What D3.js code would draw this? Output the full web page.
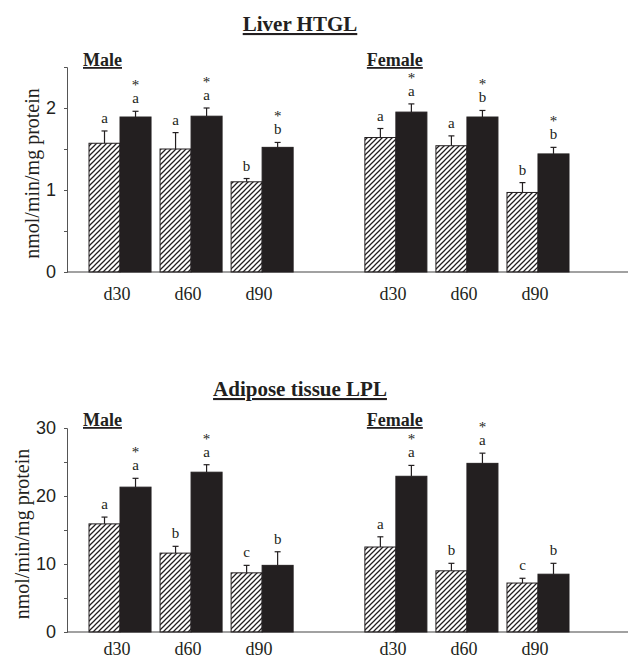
<!DOCTYPE html>
<html><head><meta charset="utf-8">
<script src="https://cdn.jsdelivr.net/npm/d3@7"></script>
<style>
html,body{margin:0;padding:0;background:#fff;}
svg{display:block;}
</style></head>
<body>
<script>
// ---------- DATA ----------
const days = ["d30", "d60", "d90"];
const sexes = ["Male", "Female"];
const groupsKeys = ["control", "treated"];

// Liver HTGL (nmol/min/mg protein)
const htglMaleControl   = [1.57, 1.50, 1.10];
const htglMaleControlSE = [0.15, 0.20, 0.04];
const htglMaleTreated   = [1.89, 1.90, 1.52];
const htglMaleTreatedSE = [0.07, 0.10, 0.06];
const htglFemaleControl   = [1.64, 1.54, 0.97];
const htglFemaleControlSE = [0.11, 0.12, 0.12];
const htglFemaleTreated   = [1.95, 1.89, 1.44];
const htglFemaleTreatedSE = [0.10, 0.08, 0.08];
const htglMaleLetters   = [["a", "a"], ["a", "a"], ["b", "b"]];
const htglFemaleLetters = [["a", "a"], ["a", "b"], ["b", "b"]];
const htglMaleStar   = [true, true, true];
const htglFemaleStar = [true, true, true];
const htglTicks = [0, 0.5, 1, 1.5, 2, 2.5];
const htglTickLabels = ["0", "", "1", "", "2", ""];

// Adipose tissue LPL (nmol/min/mg protein)
const lplMaleControl   = [15.9, 11.6, 8.7];
const lplMaleControlSE = [1.0, 1.0, 1.1];
const lplMaleTreated   = [21.3, 23.5, 9.8];
const lplMaleTreatedSE = [1.3, 1.1, 2.0];
const lplFemaleControl   = [12.5, 9.0, 7.2];
const lplFemaleControlSE = [1.5, 1.1, 0.7];
const lplFemaleTreated   = [22.9, 24.8, 8.5];
const lplFemaleTreatedSE = [1.6, 1.5, 1.6];
const lplMaleLetters   = [["a", "a"], ["b", "a"], ["c", "b"]];
const lplFemaleLetters = [["a", "a"], ["b", "a"], ["c", "b"]];
const lplMaleStar   = [true, true, false];
const lplFemaleStar = [true, true, false];
const lplTicks = [0, 5, 10, 15, 20, 25, 30];
const lplTickLabels = ["0", "", "10", "", "20", "", "30"];

const yLabel = "nmol/min/mg protein";

// ---------- LAYOUT ----------
const W = 631, H = 660;
const serif = "'Liberation Serif', 'Times New Roman', serif";
const sans = "'Liberation Sans', Arial, sans-serif";
const ink = "#231f20";

const svg = d3.select("body").append("svg").attr("width", W).attr("height", H);

const defs = svg.append("defs");
defs.append("pattern")
  .attr("id", "hatch").attr("patternUnits", "userSpaceOnUse")
  .attr("width", 5).attr("height", 5)
  .append("path")
  .attr("d", "M-1,1 l2,-2 M0,5 l5,-5 M4,6 l2,-2")
  .attr("stroke", ink).attr("stroke-width", 1.25);

const xSex = d3.scaleBand().domain(sexes).range([89, 569]).paddingInner(0.26).paddingOuter(0);
const xDay = d3.scaleBand().domain(days).range([0, xSex.bandwidth()]).paddingInner(0.127).paddingOuter(0);
const xBar = d3.scaleBand().domain(groupsKeys).range([0, xDay.bandwidth()]).padding(0);
const sexLabelShift = { Male: -6, Female: 2 };

function panel(cfg) {
  const g = svg.append("g");
  const y = d3.scaleLinear().domain([0, cfg.max]).range([cfg.y0, cfg.y1]);

  // title
  g.append("text").attr("x", 300).attr("y", cfg.titleY)
    .attr("text-anchor", "middle").attr("font-family", serif)
    .attr("font-weight", "bold").attr("font-size", 21).attr("fill", ink)
    .attr("text-decoration", "underline").text(cfg.title);

  // sex labels
  sexes.forEach(s => {
    g.append("text").attr("x", xSex(s) + sexLabelShift[s]).attr("y", cfg.sexY)
      .attr("font-family", serif).attr("font-weight", "bold")
      .attr("font-size", 18).attr("fill", ink)
      .attr("text-decoration", "underline").text(s);
  });

  // y axis
  const ax = d3.axisLeft(y).tickValues(cfg.ticks).tickSize(3).tickPadding(8)
    .tickFormat((d, i) => cfg.tickLabels[i]);
  const axG = g.append("g").attr("transform", `translate(67,0)`).call(ax);
  axG.select(".domain").attr("stroke", "#555").attr("stroke-width", 1);
  axG.selectAll(".tick line").attr("stroke", "#555");
  axG.selectAll(".tick text").attr("font-family", sans).attr("font-size", 18).attr("fill", ink);

  // baseline
  g.append("line").attr("x1", 67).attr("x2", 628).attr("y1", y(0)).attr("y2", y(0))
    .attr("stroke", "#444").attr("stroke-width", 1.2);

  // y label
  g.append("text")
    .attr("transform", `translate(${cfg.labelX},${(cfg.y0 + cfg.y1) / 2 + 4}) rotate(-90)`)
    .attr("text-anchor", "middle").attr("font-family", serif)
    .attr("font-size", 20).attr("fill", ink).text(yLabel);

  sexes.forEach(s => {
    const d = cfg.data[s];
    days.forEach((day, i) => {
      const gx = xSex(s) + xDay(day);
      const vals = [d.control[i], d.treated[i]];
      const ses = [d.controlSE[i], d.treatedSE[i]];
      groupsKeys.forEach((k, j) => {
        const bx = gx + xBar(k);
        const bw = xBar.bandwidth();
        const cx = bx + bw / 2;
        const top = y(vals[j]);
        const et = y(vals[j] + ses[j]);
        // error bar
        g.append("line").attr("x1", cx).attr("x2", cx).attr("y1", top).attr("y2", et)
          .attr("stroke", ink).attr("stroke-width", 1.2);
        g.append("line").attr("x1", cx - 3).attr("x2", cx + 3).attr("y1", et).attr("y2", et)
          .attr("stroke", ink).attr("stroke-width", 1.2);
        // bar
        g.append("rect").attr("x", bx).attr("y", top).attr("width", bw)
          .attr("height", y(0) - top)
          .attr("fill", j === 0 ? "url(#hatch)" : ink)
          .attr("stroke", ink).attr("stroke-width", 1);
        // letters
        const ly = et - 8;
        g.append("text").attr("x", cx).attr("y", ly).attr("text-anchor", "middle")
          .attr("font-family", serif).attr("font-size", 15).attr("fill", ink)
          .text(d.letters[i][j]);
        if (j === 1 && d.star[i]) {
          g.append("text").attr("x", cx).attr("y", ly - 13).attr("text-anchor", "middle")
            .attr("font-family", serif).attr("font-size", 15).attr("fill", ink)
            .text("*");
        }
      });
      // day label
      g.append("text").attr("x", gx + xDay.bandwidth() / 2 - 3).attr("y", cfg.dayY)
        .attr("text-anchor", "middle").attr("font-family", serif)
        .attr("font-size", 18).attr("fill", ink).text(day);
    });
  });
}

panel({
  title: "Liver HTGL", titleY: 31, sexY: 66, labelX: 39,
  y0: 272, y1: 67, max: 2.5, ticks: htglTicks, tickLabels: htglTickLabels, dayY: 300,
  data: {
    Male: { control: htglMaleControl, controlSE: htglMaleControlSE, treated: htglMaleTreated, treatedSE: htglMaleTreatedSE, letters: htglMaleLetters, star: htglMaleStar },
    Female: { control: htglFemaleControl, controlSE: htglFemaleControlSE, treated: htglFemaleTreated, treatedSE: htglFemaleTreatedSE, letters: htglFemaleLetters, star: htglFemaleStar }
  }
});

panel({
  title: "Adipose tissue LPL", titleY: 396, sexY: 426, labelX: 29,
  y0: 632, y1: 428, max: 30, ticks: lplTicks, tickLabels: lplTickLabels, dayY: 655,
  data: {
    Male: { control: lplMaleControl, controlSE: lplMaleControlSE, treated: lplMaleTreated, treatedSE: lplMaleTreatedSE, letters: lplMaleLetters, star: lplMaleStar },
    Female: { control: lplFemaleControl, controlSE: lplFemaleControlSE, treated: lplFemaleTreated, treatedSE: lplFemaleTreatedSE, letters: lplFemaleLetters, star: lplFemaleStar }
  }
});
</script>
</body></html>
